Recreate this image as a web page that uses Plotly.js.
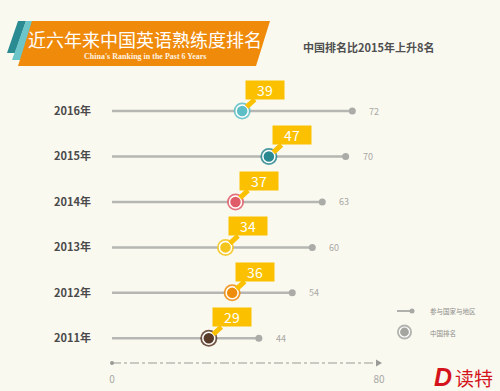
<!DOCTYPE html>
<html>
<head>
<meta charset="utf-8">
<script src="https://cdn.plot.ly/plotly-3.0.1.min.js"></script>
<style>html,body{margin:0;padding:0;background:#FAF9F0;}#chart{width:500px;height:391px;}</style>
</head>
<body>
<div id="chart"></div>
<script>
// ---- data ----
const years = ['2016年', '2015年', '2014年', '2013年', '2012年', '2011年'];
const ranks = [39, 47, 37, 34, 36, 29];          // 中国排名
const totals = [72, 70, 63, 60, 54, 44];         // 参与国家与地区
const rankColors = ['#5DBEC6', '#2A8890', '#E05C68', '#F4C51C', '#EE8C0C', '#5A3A28'];
const axisTicks = [0, 80];
const titleText = '近六年来中国英语熟练度排名';
const subtitleText = "China's Ranking in the Past 6 Years";
const noteText = '中国排名比2015年上升8名';
const legendLabels = ['参与国家与地区', '中国排名'];

// ---- helpers (pixel -> paper) ----
const W = 500, PH = 363;
const px = v => v / W;
const py = v => (PH - v) / PH;
function poly(pts) {
  return 'M ' + pts.map(p => px(p[0]).toFixed(4) + ' ' + py(p[1]).toFixed(4)).join(' L ') + ' Z';
}

const traces = [];
years.forEach((y, i) => {
  traces.push({
    x: [0, totals[i]], y: [y, y], type: 'scatter', mode: 'lines',
    line: {color: '#B6B6B3', width: 2.5}, hoverinfo: 'skip', showlegend: false
  });
});
traces.push({
  x: totals, y: years, type: 'scatter', mode: 'markers',
  marker: {size: 7, color: '#ABABA8'}, hoverinfo: 'skip', showlegend: false
});
traces.push({
  x: ranks, y: years, type: 'scatter', mode: 'markers',
  marker: {size: 17, color: rankColors, opacity: 0.85, line: {width: 0}}, hoverinfo: 'skip', showlegend: false
});
traces.push({
  x: ranks, y: years, type: 'scatter', mode: 'markers',
  marker: {size: 12, color: rankColors, line: {color: '#FFFFFF', width: 1.5}}, hoverinfo: 'skip', showlegend: false
});

const yellow = '#FBC100';
const cjk = 'Noto Sans CJK SC, sans-serif';
const annotations = [];
years.forEach((y, i) => {
  annotations.push({
    x: ranks[i], y: y, xref: 'x', yref: 'y', text: String(ranks[i]),
    showarrow: true, ax: 23, ay: -21, arrowhead: 0, arrowwidth: 5, arrowcolor: yellow,
    standoff: 6, bgcolor: yellow, width: 38, height: 18, borderpad: 0,
    font: {family: cjk, size: 14, color: '#FFFFFF'}
  });
  annotations.push({
    x: totals[i], y: y, xref: 'x', yref: 'y', text: String(totals[i]),
    showarrow: false, xanchor: 'left', yanchor: 'middle', xshift: 15,
    font: {family: cjk, size: 9, color: '#A8A8A4'}
  });
});
function paperText(x, y, text, font, xanchor) {
  annotations.push({
    xref: 'paper', yref: 'paper', x: px(x), y: py(y), text: text, showarrow: false,
    xanchor: xanchor || 'center', yanchor: 'middle', font: font
  });
}
paperText(145, 39, titleText, {family: cjk, size: 18, color: '#FFFFFF'});
paperText(145, 56, '<b>' + subtitleText + '</b>', {family: 'Liberation Serif, serif', size: 8, color: '#FFF3E0'});
paperText(368, 47, noteText, {family: cjk, size: 11, color: '#505050', weight: 'bold'});
paperText(428, 311, legendLabels[0], {family: cjk, size: 6.5, color: '#8C8C88'}, 'left');
paperText(428, 333, legendLabels[1], {family: cjk, size: 6.5, color: '#8C8C88'}, 'left');
paperText(443, 377, '<b><i>D</i></b>', {family: 'Liberation Sans, sans-serif', size: 25, color: '#D4141C'});
paperText(474, 377, '读特', {family: cjk, size: 19, color: '#D4141C'});

const grey = '#9A9A96';
const shapes = [
  // banner
  {type: 'path', xref: 'paper', yref: 'paper', path: poly([[18,21],[26,21],[15,53],[7,53]]), fillcolor: '#2A8B92', line: {width: 0}},
  {type: 'path', xref: 'paper', yref: 'paper', path: poly([[26,21],[34,21],[21,60],[12,60]]), fillcolor: '#6CC5C9', line: {width: 0}},
  {type: 'path', xref: 'paper', yref: 'paper', path: poly([[32,21],[270,21],[256,66],[18,66]]), fillcolor: '#EF8A0B', line: {width: 0}},
  // bottom axis (dash-dot with dot and arrow)
  {type: 'line', xref: 'paper', yref: 'paper', x0: px(112), x1: px(378), y0: py(363), y1: py(363), line: {color: grey, width: 1, dash: 'dashdot'}},
  {type: 'circle', xref: 'paper', yref: 'paper', x0: px(110), x1: px(114), y0: py(365), y1: py(361), fillcolor: grey, line: {width: 0}},
  {type: 'path', xref: 'paper', yref: 'paper', path: poly([[376,359.5],[382,363],[376,366.5]]), fillcolor: grey, line: {width: 0}},
  // legend symbols
  {type: 'line', xref: 'paper', yref: 'paper', x0: px(397), x1: px(412), y0: py(311), y1: py(311), line: {color: '#B0B0AC', width: 2}},
  {type: 'circle', xref: 'paper', yref: 'paper', x0: px(409.5), x1: px(414.5), y0: py(313.5), y1: py(308.5), fillcolor: '#A8A8A4', line: {width: 0}},
  {type: 'circle', xref: 'paper', yref: 'paper', x0: px(397), x1: px(412), y0: py(339.5), y1: py(324.5), fillcolor: '#B4B4B0', line: {width: 0}},
  {type: 'circle', xref: 'paper', yref: 'paper', x0: px(399.5), x1: px(409.5), y0: py(337), y1: py(327), fillcolor: '#A4A4A0', line: {color: '#FFFFFF', width: 1.2}}
];

const layout = {
  width: 500, height: 391,
  margin: {l: 0, r: 0, t: 0, b: 28, pad: 0},
  paper_bgcolor: '#FAF9F0', plot_bgcolor: '#FAF9F0',
  showlegend: false,
  xaxis: {
    range: [-33.56, 116.25], tickvals: axisTicks, ticktext: axisTicks.map(String),
    showgrid: false, zeroline: false, showline: false, ticks: '', fixedrange: true,
    ticklabelstandoff: 9,
    tickfont: {family: cjk, size: 10, color: '#A8A8A4'}
  },
  yaxis: {
    type: 'category', categoryorder: 'array', categoryarray: years.slice().reverse(),
    range: [-0.543, 7.442], anchor: 'free', position: 0.182,
    showgrid: false, zeroline: false, showline: false, ticks: '', fixedrange: true,
    tickfont: {family: cjk, size: 11, color: '#4A4A4A', weight: 'bold'}
  },
  annotations: annotations,
  shapes: shapes
};

Plotly.newPlot('chart', traces, layout, {staticPlot: true, displayModeBar: false});
</script>
</body>
</html>
